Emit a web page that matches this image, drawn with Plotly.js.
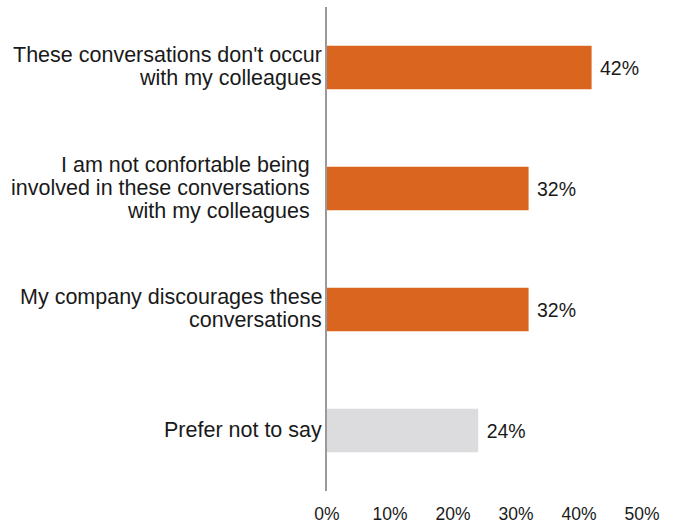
<!DOCTYPE html>
<html>
<head>
<meta charset="utf-8">
<script src="https://cdn.plot.ly/plotly-3.0.1.min.js"></script>
<style>html,body{margin:0;padding:0;background:#fff;}#chart{width:675px;height:525px;}</style>
</head>
<body>
<div id="chart"></div>
<script>
const categories = [
  "These conversations don't occur<br>with my colleagues",
  "I am not confortable being\u00a0\u00a0<br>involved in these conversations\u00a0\u00a0<br>with my colleagues\u00a0\u00a0",
  "My company discourages these<br>conversations",
  "Prefer not to say"
];
const values = [0.42, 0.32, 0.32, 0.24];
const barColors = ["#D9651F", "#D9651F", "#D9651F", "#DCDCDE"];
const valueLabels = ["42%", "32%", "32%", "24%"];
const xTickVals = [0, 0.1, 0.2, 0.3, 0.4, 0.5];
const xTickText = ["0%", "10%", "20%", "30%", "40%", "50%"];

const FONT = "Liberation Sans, Arial, Helvetica, sans-serif";
const TEXT = "#1a1a1a";
const LINE_GAP = 23;

const trace = {
  type: "bar",
  orientation: "h",
  y: categories,
  x: values,
  marker: {color: barColors},
  text: valueLabels.map(t => "\u00a0" + t),
  textposition: "outside",
  textfont: {size: 19.5, color: TEXT, family: FONT},
  cliponaxis: false,
  width: 0.36,
  hoverinfo: "none"
};

// category labels as annotations (one per line) for tight line spacing
const annotations = [];
categories.forEach(cat => {
  const lines = cat.split("<br>");
  const n = lines.length;
  lines.forEach((ln, j) => {
    annotations.push({
      x: 0, xref: "x",
      y: cat, yref: "y",
      text: ln,
      showarrow: false,
      xanchor: "right",
      yanchor: "middle",
      xshift: -3,
      yshift: ((n - 1) / 2 - j) * LINE_GAP + 1,
      font: {size: 21.5, color: TEXT, family: FONT}
    });
  });
});

const layout = {
  width: 675,
  height: 525,
  margin: {l: 327, r: 33, t: 7, b: 34},
  paper_bgcolor: "#fff",
  plot_bgcolor: "#fff",
  font: {family: FONT, size: 18, color: TEXT},
  showlegend: false,
  xaxis: {
    range: [0, 0.5],
    tickvals: xTickVals,
    ticktext: xTickText,
    showgrid: false,
    zeroline: false,
    showline: false,
    ticks: "outside",
    ticklen: 7,
    tickcolor: "rgba(0,0,0,0)",
    tickfont: {size: 17.5, color: TEXT},
    fixedrange: true
  },
  yaxis: {
    autorange: "reversed",
    showgrid: false,
    zeroline: false,
    showline: true,
    linecolor: "#9a9a9a",
    linewidth: 2,
    ticks: "",
    showticklabels: false,
    fixedrange: true
  },
  annotations: annotations
};

Plotly.newPlot("chart", [trace], layout, {displayModeBar: false, staticPlot: true});
</script>
</body>
</html>
